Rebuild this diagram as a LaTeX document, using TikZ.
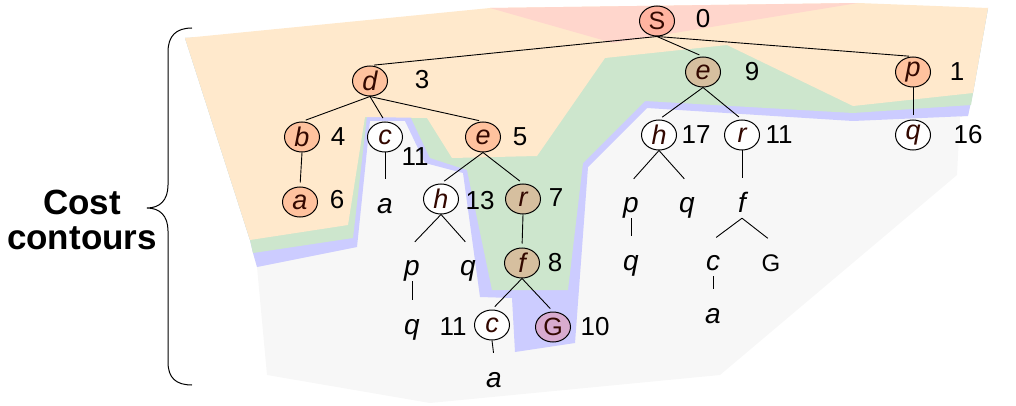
\documentclass[tikz,border=0pt]{standalone}
\usepackage{fontspec}
\setmainfont{Liberation Sans}
\usetikzlibrary{shapes.geometric}
\definecolor{regred}{HTML}{FFD6CC}
\definecolor{regorange}{HTML}{FFE9CC}
\definecolor{reggreen}{HTML}{CDE6CD}
\definecolor{regblue}{HTML}{CCCCFF}
\definecolor{reggray}{HTML}{F7F7F7}
\definecolor{fillS}{HTML}{FFB3A0}
\definecolor{fillO}{HTML}{FFC29E}
\definecolor{fillT}{HTML}{D6BF9F}
\definecolor{fillG}{HTML}{D8ABCF}
\definecolor{inkc}{HTML}{330800}
\begin{document}
\begin{tikzpicture}[x=1pt,y=-1pt,
  state/.style={ellipse,draw=black,line width=1pt,minimum width=35pt,minimum height=30pt,inner sep=0pt,
    font=\fontsize{27}{27}\selectfont\itshape,text=inkc,fill=white},
  sO/.style={state,fill=fillO},
  sS/.style={state,fill=fillS,font=\fontsize{25}{25}\selectfont},
  sT/.style={state,fill=fillT},
  sG/.style={state,fill=fillG,font=\fontsize{25}{25}\selectfont},
  leaf/.style={inner sep=0pt,anchor=base,text height=30pt,text depth=6pt,font=\fontsize{28}{28}\selectfont\itshape},
  leafG/.style={leaf,font=\fontsize{24}{24}\selectfont},
  cost/.style={inner sep=0pt,font=\fontsize{26}{26}\selectfont},
  edge/.style={draw=black,line width=0.9pt,shorten >=4pt}
]
\useasboundingbox (0,0) rectangle (1016,406);
% cost contour regions
\fill[reggray] (185,38) -- (988,8) -- (968,116) -- (960,117) -- (957,175) -- (720,375) -- (430,403) -- (267,375) -- (257,267) -- (253,253) -- (250,240) -- cycle;
\fill[regblue] (185,38) -- (988,8) -- (973,93) -- (968,116) -- (853,121) -- (647,108) -- (588,167) -- (575,343) -- (515,352) -- (512,298) -- (480,297) -- (463,173) -- (425,163) -- (405,121) -- (370,121) -- (357,247) -- (257,267) -- (253,253) -- (250,240) -- cycle;
\fill[reggreen] (185,38) -- (988,8) -- (973,93) -- (971,105) -- (853,113) -- (645,101) -- (583,163) -- (568,290) -- (492,290) -- (467,170) -- (430,158) -- (410,116) -- (367,116) -- (353,238) -- (253,253) -- (250,240) -- cycle;
\fill[regorange] (185,38) -- (490,8) -- (858,3) -- (988,8) -- (973,93) -- (853,106) -- (727,45) -- (605,58) -- (537,156) -- (452,158) -- (427,118) -- (365,117) -- (348,225) -- (250,240) -- cycle;
\fill[regred] (490,8) -- (858,3) -- (613,43) -- cycle;

% brace and label
\draw[line width=1pt] (192,28) .. controls (176,28) and (168,36) .. (168,52) -- (168,185) .. controls (168,200) and (160,208) .. (147,208) .. controls (160,208) and (168,216) .. (168,231) -- (168,362) .. controls (168,378) and (176,385) .. (192,385);
\node[align=center,inner sep=0pt,font=\fontsize{35}{35}\selectfont\bfseries] (lbl) at (82,220) {Cost\\contours};

% tree nodes
\node[sS] (S) at (657,21) {S};
\node[sO] (d) at (370,81) {d};
\node[sO] (b) at (302,137) {b};
\node[state] (c1) at (385,137) {c};
\node[sO] (e1) at (483,137) {e};
\node[sO] (a1) at (300,202) {a};
\node[state] (h1) at (441,199) {h};
\node[sT] (r1) at (523,199) {r};
\node[sT] (f1) at (522,263) {f};
\node[state] (c2) at (492,325) {c};
\node[sG] (G) at (553,327) {G};
\node[sT] (e2) at (703,72) {e};
\node[sO] (p1) at (913,72) {p};
\node[state] (h2) at (659,135) {h};
\node[state] (r2) at (742,135) {r};
\node[state] (q1) at (913,135) {q};

\node[leaf] (la1) at (385,213) {a};
\node[leaf] (lp1) at (412,275) {p};
\node[leaf] (lq1) at (468,275) {q};
\node[leaf] (lq2) at (412,334) {q};
\node[leaf] (la2) at (494,387) {a};
\node[leaf] (lp2) at (631,212) {p};
\node[leaf] (lq3) at (687,212) {q};
\node[leaf] (lf) at (742,212) {f};
\node[leaf] (lq4) at (631,270) {q};
\node[leaf] (lc) at (713,270) {c};
\node[leafG] (lG) at (771,271) {G};
\node[leaf] (la3) at (713,323) {a};

% costs
\node[cost] (kS) at (703,19) {0};
\node[cost] (kd) at (422,80) {3};
\node[cost] (kb) at (338,137) {4};
\node[cost] (kc1) at (415,157) {11};
\node[cost] (ke1) at (520,137) {5};
\node[cost] (ka1) at (337,200) {6};
\node[cost] (kh1) at (480,201) {13};
\node[cost] (kr1) at (556,198) {7};
\node[cost] (kf1) at (555,263) {8};
\node[cost] (kc2) at (453,327) {11};
\node[cost] (kG) at (595,327) {10};
\node[cost] (ke2) at (752,72) {9};
\node[cost] (kp1) at (957,72) {1};
\node[cost] (kh2) at (696,135) {17};
\node[cost] (kr2) at (779,135) {11};
\node[cost] (kq1) at (968,135) {16};

% edges
\draw[edge] (S.south) -- (d.north);
\draw[edge] (S.south) -- (e2.north);
\draw[edge] (S.south) -- (p1.north);
\draw[edge] (d.south) -- (b.north);
\draw[edge] (d.south) -- (c1.north);
\draw[edge] (d.south) -- (e1.north);
\draw[edge] (b.south) -- (a1.north);
\draw[edge] (c1.south) -- (la1.north);
\draw[edge] (e1.south) -- (h1.north);
\draw[edge] (e1.south) -- (r1.north);
\draw[edge] (h1.south) -- (lp1.north);
\draw[edge] (h1.south) -- (lq1.north);
\draw[edge] (lp1.south) -- (lq2.north);
\draw[edge] (r1.south) -- (f1.north);
\draw[edge] (f1.south) -- (c2.north);
\draw[edge] (f1.south) -- (G.north);
\draw[edge] (c2.south) -- (la2.north);
\draw[edge] (e2.south) -- (h2.north);
\draw[edge] (e2.south) -- (r2.north);
\draw[edge] (h2.south) -- (lp2.north);
\draw[edge] (h2.south) -- (lq3.north);
\draw[edge] (lp2.south) -- (lq4.north);
\draw[edge] (r2.south) -- (lf.north);
\draw[edge] (lf.south) -- (lc.north);
\draw[edge] (lf.south) -- (lG.north);
\draw[edge] (lc.south) -- (la3.north);
\draw[edge] (p1.south) -- (q1.north);
\end{tikzpicture}
\end{document}
